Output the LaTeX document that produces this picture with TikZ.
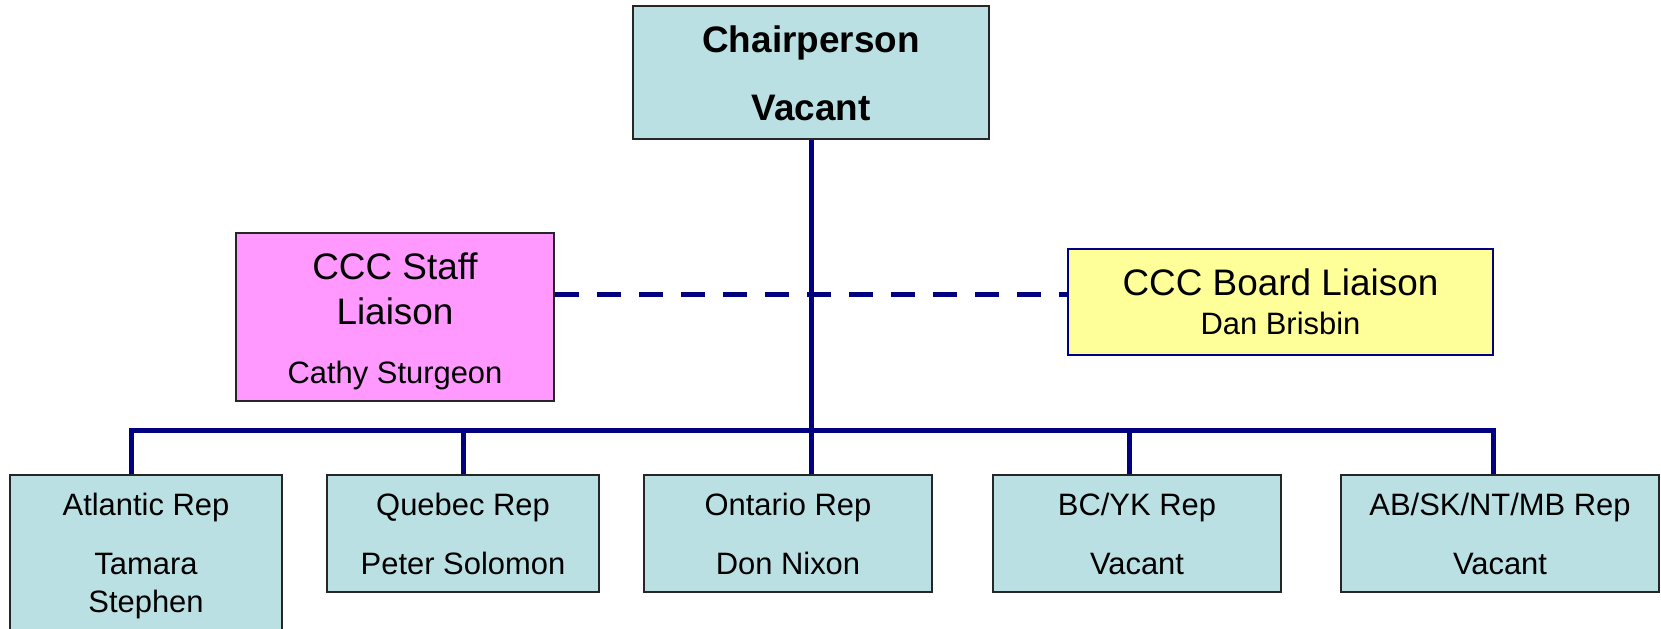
\documentclass[tikz,border=0pt]{standalone}
\usepackage{fontspec}
\setmainfont{Liberation Sans}
\definecolor{boxteal}{HTML}{BBE0E3}
\definecolor{boxpink}{HTML}{FF99FF}
\definecolor{boxyellow}{HTML}{FFFF99}
\definecolor{linenavy}{HTML}{000080}

\begin{document}
\begin{tikzpicture} [x = 0.02cm, y = -0.02cm,
  box/.style = {draw = black!85, line width = 1.1pt, inner sep = 0pt},
  repbox/.style = {box, fill = boxteal, minimum height = 2.34cm},
  txt/.style = {anchor = base, inner sep = 0pt, font = \fontsize{17.6}{21}\selectfont},
  bigtxt/.style = {txt, font = \fontsize{21}{25}\selectfont},
  boldtxt/.style = {txt, font = \fontsize{21}{25}\selectfont\bfseries},
  link/.style = {draw = linenavy, line width = 0.1cm},
  dashlink/.style = {link, dash pattern = on 13.7pt off 10.2pt}]
\useasboundingbox (0, 0) rectangle (1661, 629);

% boxes
\node[box, fill = boxteal, minimum width = 7.12cm, minimum height = 2.66cm] (chair) at (811, 72.5){};
\node[box, fill = boxpink, minimum width = 6.36cm, minimum height = 3.36cm] (staff) at (395, 317){};
\node[box, draw = linenavy, line width = 0.8pt, fill = boxyellow, minimum width = 8.5cm, minimum height = 2.12cm] (board) at (1280.5, 302){};
\node[repbox, minimum width = 5.44cm, minimum height = 3.3cm] (atl) at (146, 557.5){};
\node[repbox, minimum width = 5.44cm] (que) at (463, 533.5){};
\node[repbox, minimum width = 5.76cm] (ont) at (788, 533.5){};
\node[repbox, minimum width = 5.76cm] (bc) at (1137, 533.5){};
\node[repbox, minimum width = 6.36cm] (ab) at (1500, 533.5){};

% connectors
\path (staff.east) ++(0, -23) coordinate (dashL);
\draw[dashlink] (dashL) -- (dashL -| board.west);
\draw[link] (chair.south) -- (chair.south |- ont.north);
\coordinate (busL) at (131, 430);
\coordinate (busR) at (1493, 430);
\coordinate (bcDrop) at (1129, 430);
\draw[link] (busL |- atl.north) -- (busL) -- (busR) -- (busR |- ab.north);
\draw[link] (que.north |- busL) -- (que.north);
\draw[link] (bcDrop) -- (bcDrop |- bc.north);

% texts
\node[boldtxt] (chairT) at (811, 52){Chairperson};
\node[boldtxt] (chairN) at (811, 120){Vacant};
\node[bigtxt] (staffT) at (395, 279){CCC Staff};
\node[bigtxt] (staffU) at (395, 324){Liaison};
\node[txt] (staffN) at (395, 383){Cathy Sturgeon};
\node[bigtxt] (boardT) at (1280.5, 295){CCC Board Liaison};
\node[txt] (boardN) at (1280.5, 334){Dan Brisbin};
\node[txt] (atlT) at (146, 515){Atlantic Rep};
\node[txt] (atlN) at (146, 574){Tamara};
\node[txt] (atlM) at (146, 612){Stephen};
\node[txt] (queT) at (463, 515){Quebec Rep};
\node[txt] (queN) at (463, 574){Peter Solomon};
\node[txt] (ontT) at (788, 515){Ontario Rep};
\node[txt] (ontN) at (788, 574){Don Nixon};
\node[txt] (bcT) at (1137, 515){BC/YK Rep};
\node[txt] (bcN) at (1137, 574){Vacant};
\node[txt] (abT) at (1500, 515){AB/SK/NT/MB Rep};
\node[txt] (abN) at (1500, 574){Vacant};
\end{tikzpicture}
\end{document}
